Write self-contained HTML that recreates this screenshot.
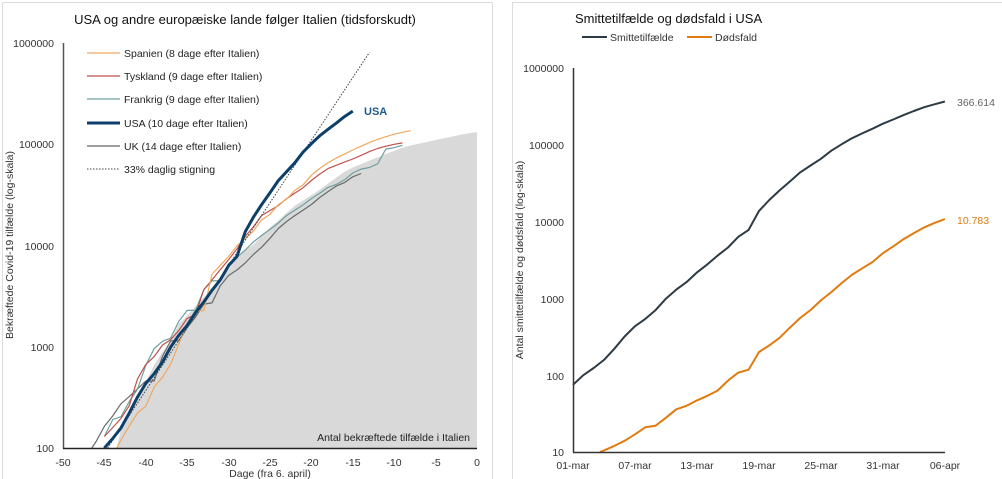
<!DOCTYPE html>
<html><head><meta charset="utf-8"><style>
html,body{margin:0;padding:0;background:#fff;width:1002px;height:479px;overflow:hidden}
svg{display:block;font-family:"Liberation Sans",Arial,sans-serif}
</style></head><body>
<svg id="s" width="1002" height="479" viewBox="0 0 1002 479" xmlns="http://www.w3.org/2000/svg">
<rect x="2.5" y="2.5" width="490" height="480" fill="#fff" stroke="#dcdcdc"/>
<rect x="512.5" y="2.5" width="492" height="480" fill="#fff" stroke="#dcdcdc"/>
<g id="L"></g>
<g id="R"></g>
<text x="245" y="24" font-size="13" text-anchor="middle" fill="#111">USA og andre europæiske lande følger Italien (tidsforskudt)</text>
<g font-size="10.5" fill="#333" text-anchor="end">
<text x="54" y="47">1000000</text><text x="54" y="148">100000</text><text x="54" y="250">10000</text><text x="54" y="351">1000</text><text x="54" y="452">100</text>
</g>
<g font-size="10.5" fill="#333" text-anchor="middle">
<text x="63" y="466">-50</text><text x="104" y="466">-45</text><text x="146" y="466">-40</text><text x="187" y="466">-35</text><text x="229" y="466">-30</text><text x="270" y="466">-25</text><text x="311" y="466">-20</text><text x="353" y="466">-15</text><text x="394" y="466">-10</text><text x="436" y="466">-5</text><text x="477" y="466">0</text>
<text x="270" y="477">Dage (fra 6. april)</text>
</g>
<text transform="translate(13,245) rotate(-90)" font-size="10.5" fill="#333" text-anchor="middle">Bekræftede Covid-19 tilfælde (log-skala)</text>
<text x="470" y="441" font-size="10.5" fill="#222" text-anchor="end">Antal bekræftede tilfælde i Italien</text>
<text x="364" y="115" font-size="11" font-weight="bold" fill="#1f5a8c">USA</text>
<g font-size="10.5" fill="#222">
<line x1="87" y1="53" x2="120" y2="53" stroke="#f0a860" stroke-width="1.2"/><text x="124" y="57">Spanien (8 dage efter Italien)</text>
<line x1="87" y1="76" x2="120" y2="76" stroke="#c0504d" stroke-width="1.2"/><text x="124" y="80">Tyskland (9 dage efter Italien)</text>
<line x1="87" y1="99" x2="120" y2="99" stroke="#6fa0a0" stroke-width="1.2"/><text x="124" y="103">Frankrig (9 dage efter Italien)</text>
<line x1="87" y1="123" x2="120" y2="123" stroke="#0d3f6b" stroke-width="3"/><text x="124" y="127">USA (10 dage efter Italien)</text>
<line x1="87" y1="146" x2="120" y2="146" stroke="#666" stroke-width="1.2"/><text x="124" y="150">UK (14 dage efter Italien)</text>
<line x1="87" y1="169" x2="120" y2="169" stroke="#444" stroke-width="1" stroke-dasharray="1.5,1.5"/><text x="124" y="173">33% daglig stigning</text>
</g>
<text x="575" y="23" font-size="13" fill="#111">Smittetilfælde og dødsfald i USA</text>
<g font-size="10.5" fill="#333">
<line x1="582" y1="37" x2="607" y2="37" stroke="#2d3b45" stroke-width="2"/><text x="610" y="41">Smittetilfælde</text>
<line x1="687" y1="37" x2="712" y2="37" stroke="#e07b10" stroke-width="2"/><text x="715" y="41">Dødsfald</text>
</g>
<g font-size="10.5" fill="#333" text-anchor="end">
<text x="564" y="72">1000000</text><text x="564" y="149">100000</text><text x="564" y="226">10000</text><text x="564" y="303">1000</text><text x="564" y="380">100</text><text x="564" y="456">10</text>
</g>
<g font-size="10.5" fill="#333" text-anchor="middle">
<text x="573" y="469">01-mar</text><text x="635" y="469">07-mar</text><text x="697" y="469">13-mar</text><text x="759" y="469">19-mar</text><text x="821" y="469">25-mar</text><text x="883" y="469">31-mar</text><text x="945" y="469">06-apr</text>
</g>
<text transform="translate(523,260) rotate(-90)" font-size="10.5" fill="#333" text-anchor="middle">Antal smittetilfælde og dødsfald (log-skala)</text>
<text x="957" y="106" font-size="10.5" fill="#666">366.614</text>
<text x="957" y="224" font-size="10.5" fill="#e07b10">10.783</text>
</svg>
<script>
var NS="http://www.w3.org/2000/svg";
function el(g,t,a){var e=document.createElementNS(NS,t);for(var k in a)e.setAttribute(k,a[k]);document.getElementById(g).appendChild(e);return e;}
function LX(d){return 63+(d+50)*8.28}
function LY(v){return 448-(Math.log10(v)-2)*101.2}
function path(arr,start,shift,fx,fy,minv){var s="",f=true;for(var i=0;i<arr.length;i++){var v=arr[i];if(v<minv)continue;var x=fx(start+i-shift),y=fy(v);s+=(f?"M":"L")+x.toFixed(1)+","+y.toFixed(1);f=false;}return s;}
var ita=[62,155,229,322,453,655,888,1128,1694,2036,2502,3089,3858,4636,5883,7375,9172,10149,12462,15113,17660,21157,24747,27980,31506,35713,41035,47021,53578,59138,63927,69176,74386,80589,86498,92472,97689,101739,105792,110574,115242,119827,124632,128948,132547];
// ita index 0 -> day -44
var a="M"+LX(-43.5)+","+LY(100);
for(var i=1;i<ita.length;i++){a+="L"+LX(-44+i).toFixed(1)+","+LY(ita[i]).toFixed(1);}
a+="L"+LX(0)+","+LY(100)+"Z";
el("L","path",{d:a,fill:"#d9d9d9"});
// March 1 = day -36 relative to Apr 6
var spain=[84,120,165,222,259,400,500,673,1073,1695,2277,2277,5232,6391,7798,9942,11748,13910,17963,20410,25374,28768,35136,39885,49515,57786,65719,73235,80110,87956,95923,104118,112065,119199,126168,131646,136675];
var ger=[130,159,196,262,482,670,799,1040,1176,1457,1908,2078,3675,4585,5795,7272,9257,12327,15320,19848,22213,24873,29056,32986,37323,43938,50871,57695,62095,66885,71808,77872,84794,91159,96092,100123,103375];
var fra=[130,191,204,288,380,656,957,1134,1217,1792,2289,2289,3667,4480,4513,6650,7652,9043,10871,12612,14459,16689,19856,22304,25233,29155,32964,37575,40174,44550,52128,56989,59105,64338,89953,92839,98010];
var uk=[36,40,51,87,116,164,207,274,322,384,459,459,802,1144,1145,1551,1960,2642,2716,4014,5067,5745,6726,8164,9640,11812,14745,17312,19780,22453,25481,29865,34173,38689,41903,47806,51608];
var usa=[75,100,124,158,221,319,435,541,704,994,1301,1630,2183,2770,3613,4596,6344,7786,13680,19101,25493,33276,43847,53740,65778,83836,101657,121478,140886,161807,188172,213372,243453,275586,308850,337072,366614];
var deaths=[null,null,null,10.5,12,14,17,21,22,28,36,40,47,54,63,85,108,118,200,244,307,417,557,706,942,1209,1581,2026,2467,2978,3873,4757,5926,7087,8407,9619,10783];
function clip(a){return a.map(function(v){return v<100?null:v})}
function lp(arr,shift,col,w,end){var s="",f=true;var prev=null;for(var i=0;i<arr.length;i++){var d=-36+i-shift;if(end!==undefined&&d>end)break;var v=arr[i];if(v<100){prev=[d,v];continue;}
 if(f&&prev){var l0=Math.log10(prev[1]),l1=Math.log10(v);var t=(2-l0)/(l1-l0);s+="M"+LX(prev[0]+t).toFixed(1)+","+LY(100).toFixed(1);f=false;}
 s+=(f?"M":"L")+LX(d).toFixed(1)+","+LY(v).toFixed(1);f=false;}
 el("L","path",{d:s,fill:"none",stroke:col,"stroke-width":w,"stroke-linejoin":"round"});}
lp(uk,14,"#6a6a6a",1.2);
lp(fra,9,"#6fa0a0",1.2);
lp(ger,9,"#c0504d",1.2);
lp(spain,8,"#f0a860",1.2);
el("L","line",{x1:LX(-44.6),y1:LY(100),x2:LX(-13),y2:LY(810000),stroke:"#444","stroke-width":1,"stroke-dasharray":"1.5,1.5"});
lp(usa,10,"#0d3f6b",3,-15);
el("L","line",{x1:63.5,y1:43,x2:63.5,y2:448.5,stroke:"#555","stroke-width":1.5});
el("L","line",{x1:63,y1:448.5,x2:477,y2:448.5,stroke:"#222","stroke-width":1.5});
// right
function RX(i){return 573+i*10.33}
function RY(v){return 452-(Math.log10(v)-1)*76.8}
var s="";for(var i=0;i<usa.length;i++){s+=(i?"L":"M")+RX(i).toFixed(1)+","+RY(usa[i]).toFixed(1);}
el("R","path",{d:s,fill:"none",stroke:"#2d3b45","stroke-width":2,"stroke-linejoin":"round"});
s="M600,452";for(var i=3;i<deaths.length;i++){s+="L"+RX(i).toFixed(1)+","+RY(deaths[i]).toFixed(1);}
el("R","path",{d:s,fill:"none",stroke:"#e07b10","stroke-width":2,"stroke-linejoin":"round"});
el("R","line",{x1:573.5,y1:68,x2:573.5,y2:452.5,stroke:"#333","stroke-width":1.5});
el("R","line",{x1:573,y1:452.5,x2:945,y2:452.5,stroke:"#333","stroke-width":1.5});
</script>
</body></html>
